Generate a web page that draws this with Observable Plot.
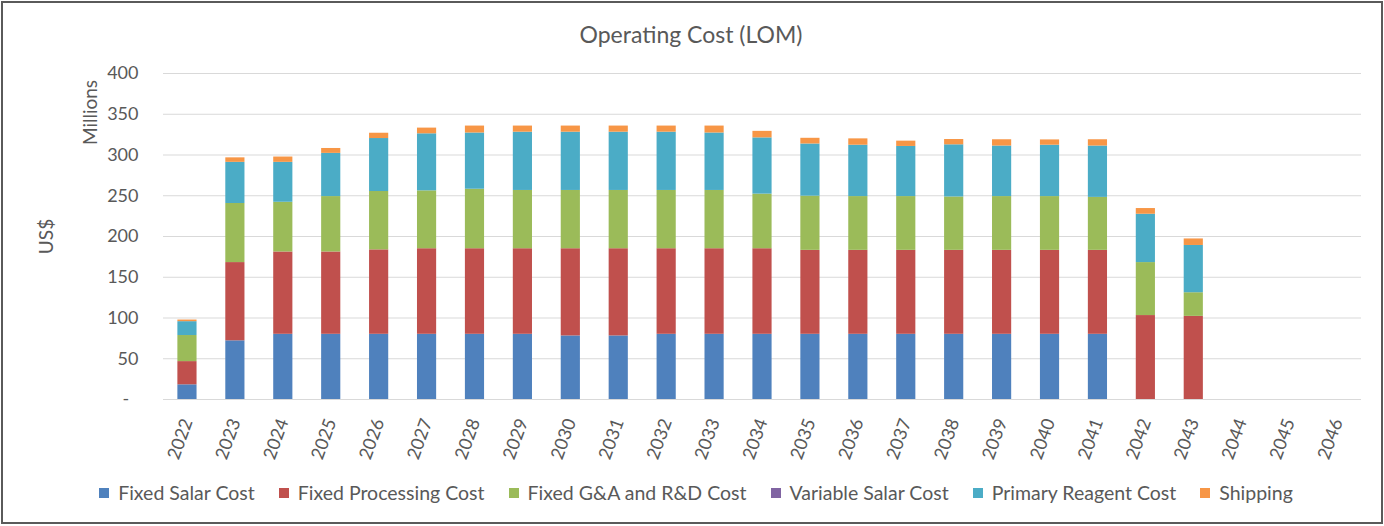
<!DOCTYPE html>
<html>
<head>
<meta charset="utf-8">
<script src="https://cdn.jsdelivr.net/npm/d3@7"></script>
<script src="https://cdn.jsdelivr.net/npm/@observablehq/plot@0.6"></script>
<style>
  html, body { margin: 0; padding: 0; background: #fff; }
  #wrap { position: relative; width: 1384px; height: 526px; overflow: hidden; font-family: Lato, "Open Sans", sans-serif; }
  #frame { position: absolute; left: 1px; top: 1px; width: 1378px; height: 519px; border: 2px solid #5a5a5a; box-sizing: content-box; pointer-events: none; }
  #title { position: absolute; left: 0; width: 1382px; top: 19px; text-align: center; font-size: 23px; color: #595959; line-height: 30px; }
  #chart { position: absolute; left: 0; top: 0; }
  #legend { position: absolute; left: 0; width: 1392px; top: 481px; display: flex; justify-content: center; gap: 24px; font-size: 19.5px; color: #595959; line-height: 24px; }
  .item { display: flex; align-items: center; }
  .sw { width: 10px; height: 10px; margin-right: 9px; }
</style>
</head>
<body>
<div id="wrap">
  <div id="title">Operating Cost (LOM)</div>
  <div id="chart"></div>
  <div id="legend"></div>
  <div id="frame"></div>
</div>
<script>
const years = ["2022","2023","2024","2025","2026","2027","2028","2029","2030","2031","2032","2033","2034","2035","2036","2037","2038","2039","2040","2041","2042","2043","2044","2045","2046"];
const seriesNames = ["Fixed Salar Cost","Fixed Processing Cost","Fixed G&A and R&D Cost","Variable Salar Cost","Primary Reagent Cost","Shipping"];
const seriesColors = ["#4F81BD","#C0504D","#9BBB59","#8064A2","#4BACC6","#F79646"];

const fixedSalarCost      = [18, 72, 80, 80, 80, 80, 80, 80, 78, 78, 80, 80, 80, 80, 80, 80, 80, 80, 80, 80, 0, 0, 0, 0, 0];
const fixedProcessingCost = [28.5, 96, 101, 101, 103.6, 105, 105, 105, 107, 107, 105, 105, 105, 103, 103, 103, 103, 103, 103, 103, 103, 102, 0, 0, 0];
const fixedGACost         = [32, 72.5, 61, 68, 71.6, 71, 73, 71.5, 71.5, 71.5, 71.5, 71.5, 67, 66.5, 66, 66, 65.5, 66, 66, 65, 65, 29, 0, 0, 0];
const variableSalarCost   = [0, 0, 0, 0, 0, 0, 0, 0, 0, 0, 0, 0, 0, 0, 0, 0, 0, 0, 0, 0, 0, 0, 0, 0, 0];
const primaryReagentCost  = [17, 50.5, 49, 53, 65, 70, 69, 71.5, 71.5, 71.5, 71.5, 70.5, 69, 64, 63, 61.5, 64, 62, 63, 63, 59.3, 58, 0, 0, 0];
const shipping            = [2, 5.5, 6.5, 6, 6.5, 7, 8.5, 7.5, 7.5, 7.5, 7.5, 8.5, 8, 7, 7.8, 6.5, 6.5, 7.7, 6.5, 7.7, 7, 8, 0, 0, 0];
const yTicks = [0, 50, 100, 150, 200, 250, 300, 350, 400];

const seriesValues = [fixedSalarCost, fixedProcessingCost, fixedGACost, variableSalarCost, primaryReagentCost, shipping];
const rows = [];
years.forEach((yr, i) => {
  seriesNames.forEach((s, j) => rows.push({year: yr, series: s, value: seriesValues[j][i]}));
});

const textColor = "#595959";
const chart = Plot.plot({
  width: 1384,
  height: 470,
  marginTop: 73,
  marginBottom: 71,
  marginLeft: 163,
  marginRight: 23,
  style: {fontFamily: "Lato, 'Open Sans', sans-serif", color: textColor, background: "transparent"},
  x: {domain: years, paddingInner: 0.6, paddingOuter: 0.3, round: false, label: null},
  y: {domain: [0, 400], ticks: yTicks, label: null},
  color: {domain: seriesNames, range: seriesColors},
  marks: [
    Plot.gridY(yTicks, {stroke: "#d9d9d9", strokeOpacity: 1, strokeWidth: 1}),
    Plot.barY(rows, {x: "year", y: "value", fill: "series"}),
    Plot.axisY(yTicks, {tickSize: 0, tickPadding: 25, fontSize: 18, fill: textColor,
      tickFormat: d => d === 0 ? "-\u00a0\u00a0" : String(d), label: null}),
    Plot.axisX({tickSize: 0, tickPadding: 20, tickRotate: -70, fontSize: 18, fill: textColor, label: null}),
    Plot.text(["Millions"], {frameAnchor: "top-left", textAnchor: "middle", dx: 83 - 163, dy: 112 - 73, rotate: -90, fontSize: 19, fill: textColor}),
    Plot.text(["US$"], {frameAnchor: "top-left", textAnchor: "middle", dx: 39 - 163, dy: 236 - 73, rotate: -90, fontSize: 19, fill: textColor})
  ]
});
document.getElementById("chart").appendChild(chart);

const legend = document.getElementById("legend");
seriesNames.forEach((s, j) => {
  const it = document.createElement("div");
  it.className = "item";
  const sw = document.createElement("span");
  sw.className = "sw";
  sw.style.background = seriesColors[j];
  const tx = document.createElement("span");
  tx.textContent = s;
  it.appendChild(sw); it.appendChild(tx);
  legend.appendChild(it);
});
</script>
</body>
</html>
